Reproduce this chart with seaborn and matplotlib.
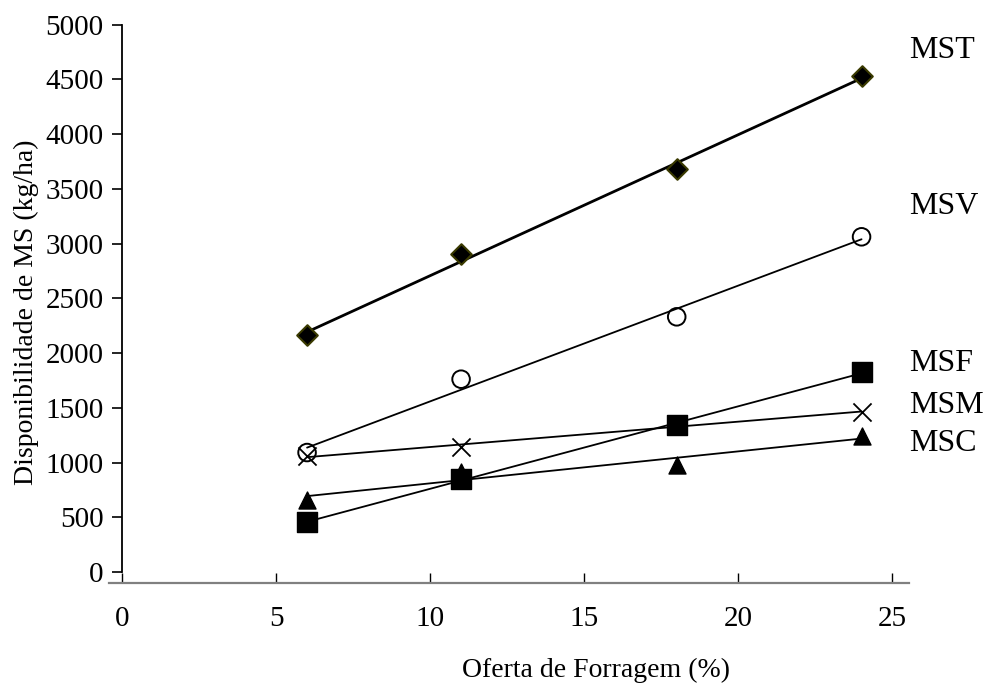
import numpy as np
import pandas as pd
import seaborn as sns
import matplotlib
matplotlib.use('Agg')
import matplotlib.pyplot as plt

# values
oferta = [6, 11, 18, 24]
mst = [2163, 2904, 3678, 4531]
msv = [1091, 1761, 2331, 3062]
msm = [1060, 1143, 1340, 1463]
msc = [660, 914, 980, 1240]
msf = [457, 845, 1347, 1823]

series_names = ['MST', 'MSV', 'MSM', 'MSC', 'MSF']
series_values = [mst, msv, msm, msc, msf]
label_y = [4763, 3336, 1524, 1174, 1905]

sns.set_style('white')
plt.rcParams['font.family'] = ['Liberation Serif', 'DejaVu Serif']
plt.rcParams['text.color'] = 'black'
plt.rcParams['axes.labelcolor'] = 'black'
plt.rcParams['xtick.color'] = 'black'
plt.rcParams['ytick.color'] = 'black'

fig = plt.figure(figsize=(9.89, 6.89), dpi=100)
ax = fig.add_axes([0.1102, 0.1543, 0.8089, 0.8099])

styles = {
    'MST': dict(marker='D', s=110, fc='black', ec='#3a3a00', lw=1.5, line=2.0),
    'MSV': dict(marker='o', s=160, fc='none', ec='black', lw=1.4, line=1.3),
    'MSM': dict(marker='x', s=170, fc='black', ec='black', lw=1.3, line=1.3),
    'MSC': dict(marker='^', s=150, fc='black', ec='black', lw=1.0, line=1.3),
    'MSF': dict(marker='s', s=200, fc='black', ec='black', lw=1.0, line=1.3),
}

for name, vals in zip(series_names, series_values):
    df = pd.DataFrame({'oferta': oferta, 'ms': vals})
    st = styles[name]
    sk = dict(s=st['s'], alpha=1, zorder=3, linewidths=st['lw'])
    if st['marker'] != 'x':
        sk['facecolors'] = st['fc']
        sk['edgecolors'] = st['ec']
    sns.regplot(data=df, x='oferta', y='ms', ax=ax, ci=None, color='black',
                marker=st['marker'], scatter_kws=sk,
                line_kws=dict(lw=st['line'], zorder=2))

for name, yy in zip(series_names, label_y):
    ax.text(25.55, yy, name, fontsize=23, ha='left', va='center', clip_on=False)

ax.set_xlim(-0.43, 25.54)
ax.set_ylim(-98, 5000)
ax.set_xticks([0, 5, 10, 15, 20, 25])
ax.set_yticks(range(0, 5001, 500))
ax.spines['left'].set_position(('data', 0))
ax.spines['left'].set_bounds(0, 5000)
ax.spines['left'].set_color('black')
ax.spines['left'].set_linewidth(1.3)
ax.spines['bottom'].set_color('#808080')
ax.spines['bottom'].set_linewidth(1.6)
ax.spines['top'].set_visible(False)
ax.spines['right'].set_visible(False)

ax.tick_params(axis='y', direction='out', length=7, width=1.2,
               labelsize=21, pad=6.5, left=True)
ax.tick_params(axis='x', direction='in', length=7.5, width=1.0,
               labelsize=21, pad=17, bottom=True)

ax.set_xlabel('Oferta de Forragem (%)', fontsize=20)
ax.set_ylabel('Disponibilidade de MS (kg/ha)', fontsize=20)
ax.xaxis.set_label_coords(0.609, -0.135)
ax.yaxis.set_label_coords(-0.088, 0.485)

fig.savefig('out.png', dpi=100)
